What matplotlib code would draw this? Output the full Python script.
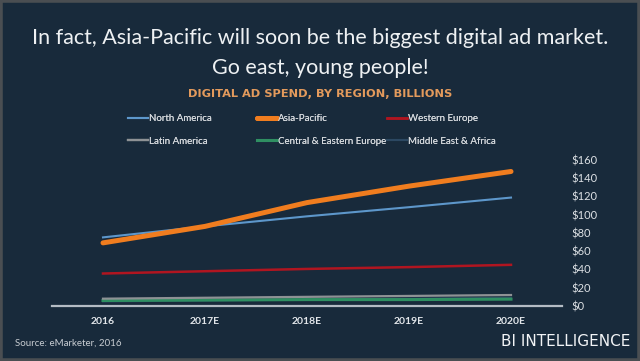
import matplotlib.pyplot as plt
from matplotlib.patches import Rectangle

plt.rcParams['font.family'] = ['Lato', 'DejaVu Sans']

# Data (billions USD)
years = ['2016', '2017E', '2018E', '2019E', '2020E']
north_america = [75, 87, 98, 108, 118.5]
asia_pacific = [69, 87, 113, 131, 147]
western_europe = [35.5, 38, 40.5, 42.5, 45]
latin_america = [8, 9, 10, 11, 12]
central_eastern_europe = [6, 6.5, 7, 7, 7.5]
middle_east_africa = [5, 6, 7, 8, 9]
yticks = [0, 20, 40, 60, 80, 100, 120, 140, 160]

bg = '#182a3b'
fig = plt.figure(figsize=(6.4, 3.61), dpi=100, facecolor=bg)
ax = fig.add_axes([52/640, 55/361, 510/640, 146.4/361])
ax.set_facecolor(bg)

x = range(len(years))
l_mea, = ax.plot(x, middle_east_africa, color='#2c4862', lw=1.5, label='Middle East & Africa')
l_cee, = ax.plot(x, central_eastern_europe, color='#2f8f62', lw=2.2, label='Central & Eastern Europe')
l_la, = ax.plot(x, latin_america, color='#8e9295', lw=1.6, label='Latin America')
l_we, = ax.plot(x, western_europe, color='#b01520', lw=1.8, label='Western Europe')
l_na, = ax.plot(x, north_america, color='#5d97cb', lw=1.5, label='North America')
l_ap, = ax.plot(x, asia_pacific, color='#f07d1f', lw=3.6, label='Asia-Pacific',
                solid_capstyle='round', solid_joinstyle='round')

ax.set_xlim(-0.5, 4.5)
ax.set_ylim(0, 160)
ax.set_xticks(list(x))
ax.set_xticklabels(years, fontsize=7.5, fontweight='bold', color='#e2e6ea')
ax.set_yticks(yticks)
ax.set_yticklabels([f'${v}' for v in yticks], fontsize=8, color='#dde1e5')
ax.yaxis.tick_right()
ax.tick_params(axis='x', length=0, pad=8)
ax.tick_params(axis='y', length=0, pad=7)
for s in ['top', 'left', 'right']:
    ax.spines[s].set_visible(False)
ax.spines['bottom'].set_color('#b4bcc4')
ax.spines['bottom'].set_linewidth(1.6)

# legend as three columns on a fixed grid
cols = [([l_na, l_la], 128), ([l_ap, l_cee], 257), ([l_we, l_mea], 387)]
for handles, px in cols:
    leg = fig.legend(handles=handles, loc='upper left',
                     bbox_to_anchor=(px/640, 1 - 114/361), frameon=False,
                     fontsize=7, handlelength=2.1, handletextpad=0.1,
                     borderpad=0, borderaxespad=0, labelspacing=1.4,
                     labelcolor='#d4d8dc')
    fig.add_artist(leg)

fig.text(0.5, 1 - 38/361, 'In fact, Asia-Pacific will soon be the biggest digital ad market.',
         ha='center', va='center', fontsize=15.5, color='#eef1f3')
fig.text(0.5, 1 - 68/361, 'Go east, young people!',
         ha='center', va='center', fontsize=15.5, color='#eef1f3')
fig.text(0.5, 1 - 94/361, 'DIGITAL AD SPEND, BY REGION, BILLIONS',
         ha='center', va='center', fontsize=8.2, fontweight='bold',
         family='DejaVu Sans', color='#e39a5c')
fig.text(15/640, 1 - 343/361, 'Source: eMarketer, 2016',
         ha='left', va='center', fontsize=7, color='#c8cdd2')
fig.text(630/640, 1 - 342/361, 'BI INTELLIGENCE',
         ha='right', va='center', fontsize=11, family='DejaVu Sans', color='#f2f4f6')

fig.add_artist(Rectangle((0, 0), 1, 1, transform=fig.transFigure, fill=False,
                         edgecolor='#4a4e52', linewidth=4))

fig.savefig('out.png', dpi=100, facecolor=bg)
